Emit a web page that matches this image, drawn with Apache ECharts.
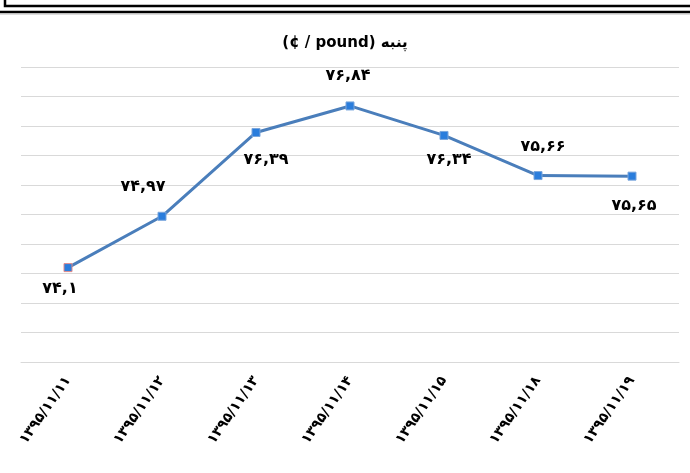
<!DOCTYPE html>
<html>
<head>
<meta charset="utf-8">
<script src="https://cdn.jsdelivr.net/npm/echarts@6/dist/echarts.min.js"></script>
<style>
html,body{margin:0;padding:0;background:#fff;}
#chart{width:690px;height:473px;}
</style>
</head>
<body>
<div id="chart"></div>
<script>
var titleText = '(¢ / pound) پنبه';
var categories = ['۱۳۹۵/۱۱/۱۱','۱۳۹۵/۱۱/۱۲','۱۳۹۵/۱۱/۱۳','۱۳۹۵/۱۱/۱۴','۱۳۹۵/۱۱/۱۵','۱۳۹۵/۱۱/۱۸','۱۳۹۵/۱۱/۱۹'];
var values = [74.1, 74.97, 76.39, 76.84, 76.34, 75.66, 75.65];
var valueLabels = ['۷۴,۱','۷۴,۹۷','۷۶,۳۹','۷۶,۸۴','۷۶,۳۴','۷۵,۶۶','۷۵,۶۵'];
var labelOffsets = [[-8,21],[-19,-29],[10,27],[-2,-30],[5,24],[5,-29],[2,30]];

var font = 'DejaVu Sans';
var chart = echarts.init(document.getElementById('chart'), null, {renderer:'canvas'});
var data = values.map(function(v,i){
  return {
    value: v,
    itemStyle: i === 0 ? {borderColor:'#e08a8a'} : {},
    label: {
      show: true,
      position: 'inside',
      offset: labelOffsets[i],
      formatter: valueLabels[i],
      color: '#000',
      fontFamily: font,
      fontWeight: 'bold',
      fontSize: 16
    }
  };
});
chart.setOption({
  backgroundColor: '#fff',
  animation: false,
  title: {
    text: titleText,
    left: 'center',
    top: 31,
    textStyle: {fontFamily: font, fontWeight: 'bold', fontSize: 15, color: '#000'}
  },
  grid: {left: 21, right: 11, top: 67, bottom: 111, containLabel: false},
  xAxis: {
    type: 'category',
    data: categories,
    boundaryGap: true,
    axisLine: {show: true, lineStyle: {color: '#d9d9d9', width: 1}},
    axisTick: {show: false},
    axisLabel: {
      rotate: 55,
      margin: 16,
      interval: 0,
      color: '#000',
      fontFamily: font,
      fontWeight: 'bold',
      fontSize: 14
    }
  },
  yAxis: {
    type: 'value',
    min: 72.5,
    max: 77.5,
    interval: 0.5,
    axisLine: {show: false},
    axisTick: {show: false},
    axisLabel: {show: false},
    splitLine: {lineStyle: {color: '#d9d9d9', width: 1}}
  },
  series: [{
    type: 'line',
    data: data,
    symbol: 'rect',
    symbolSize: 8,
    lineStyle: {color: '#4a7ebb', width: 3},
    itemStyle: {color: '#2a7ddc', borderColor: '#7aa6dc', borderWidth: 1},
    z: 3
  }],
  graphic: [
    {type: 'rect', shape: {x: 5, y: -5, width: 700, height: 11}, style: {fill: 'none', stroke: '#000', lineWidth: 2.5}},
    {type: 'line', shape: {x1: 0, y1: 12, x2: 690, y2: 12}, style: {stroke: '#000', lineWidth: 2.5}},
    {type: 'line', shape: {x1: 0, y1: 14, x2: 690, y2: 14}, style: {stroke: '#bbb', lineWidth: 1}}
  ]
});
</script>
</body>
</html>
